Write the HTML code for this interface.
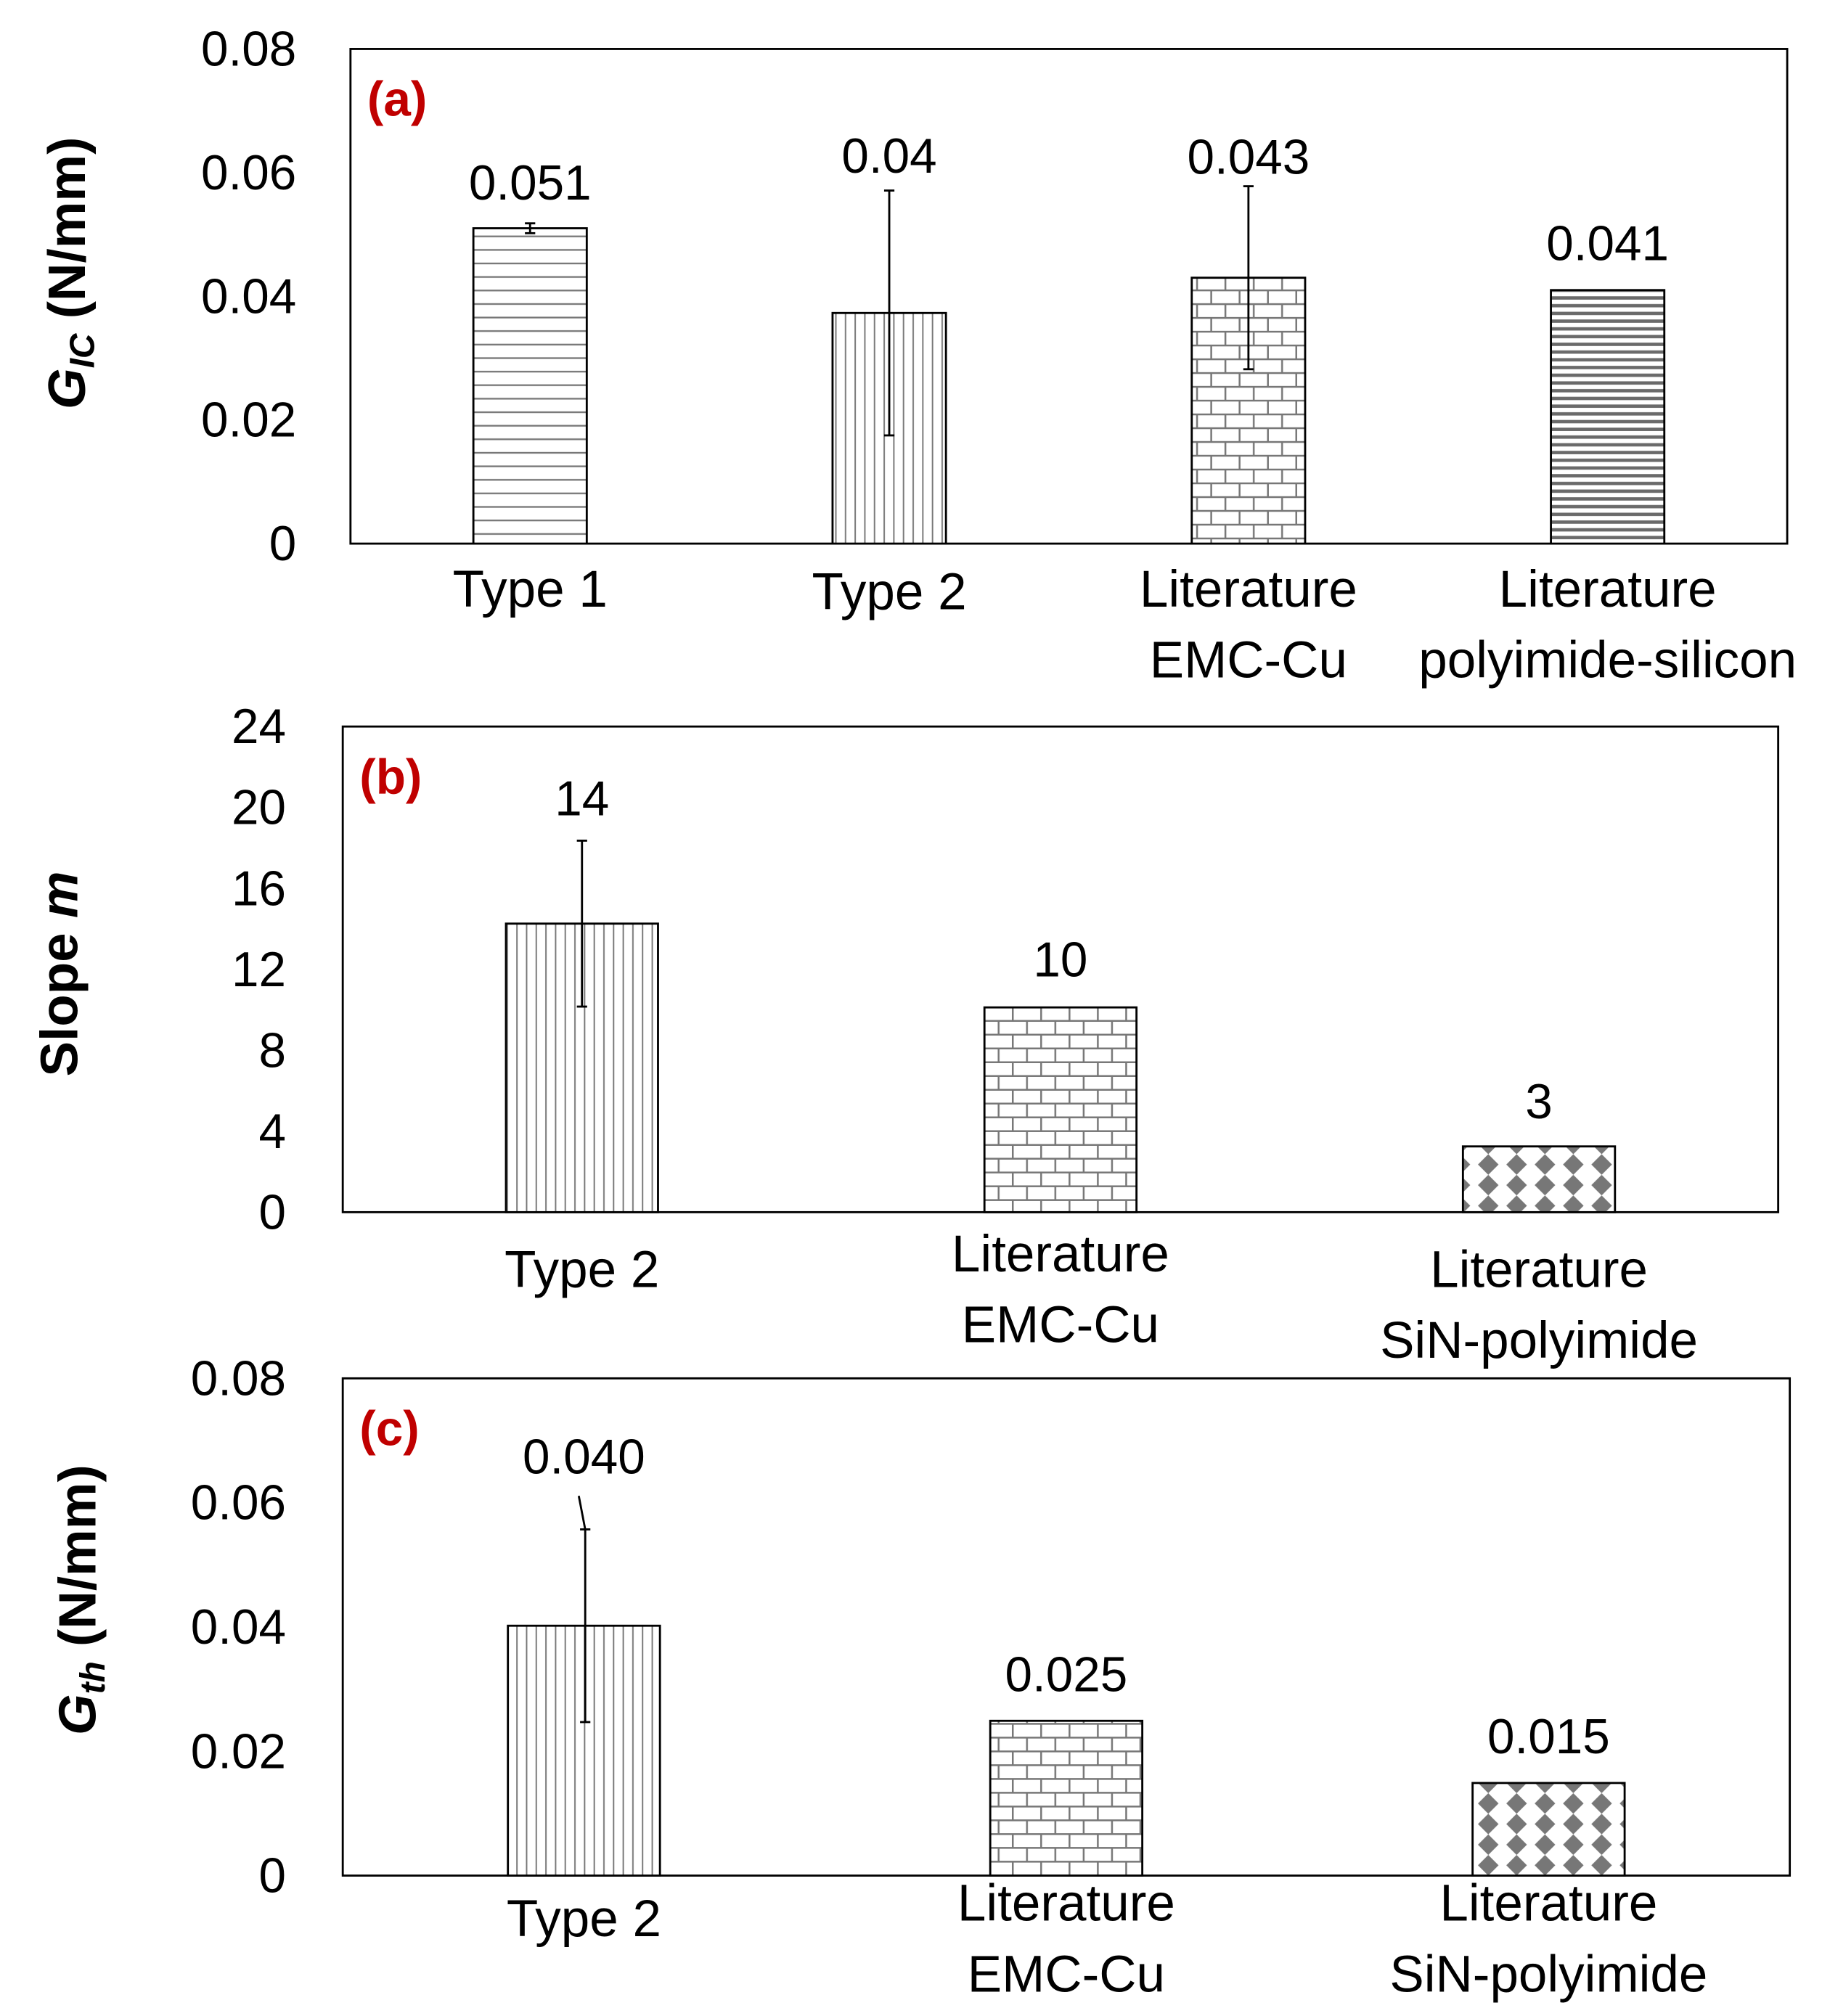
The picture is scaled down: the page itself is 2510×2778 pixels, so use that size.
<!DOCTYPE html>
<html><head><meta charset="utf-8"><style>
html,body{margin:0;padding:0;background:#fff;}
svg{display:block;}
text{font-family:"Liberation Sans",sans-serif;}
</style></head><body>
<svg id="fig" xmlns="http://www.w3.org/2000/svg" width="2510" height="2778" viewBox="0 0 1414 1565" preserveAspectRatio="none">
<defs>
<pattern id="pHoriz" patternUnits="userSpaceOnUse" width="10" height="10.5"><rect width="10" height="10.5" fill="#fff"/><line x1="0" y1="5" x2="10" y2="5" stroke="#777" stroke-width="1.3"/></pattern>
<pattern id="pVert" patternUnits="userSpaceOnUse" width="7.5" height="10"><rect width="7.5" height="10" fill="#fff"/><line x1="3.7" y1="0" x2="3.7" y2="10" stroke="#777" stroke-width="1.1"/></pattern>
<pattern id="pDense" patternUnits="userSpaceOnUse" width="10" height="6"><rect width="10" height="6" fill="#fff"/><rect x="0" y="2" width="10" height="2.6" fill="#6a6a6a"/></pattern>
<pattern id="pBrick" patternUnits="userSpaceOnUse" width="22" height="21.4"><rect width="22" height="21.4" fill="#fff"/><g stroke="#777" stroke-width="1.4"><line x1="0" y1="0.7" x2="22" y2="0.7"/><line x1="0" y1="11.4" x2="22" y2="11.4"/><line x1="5" y1="0" x2="5" y2="10.7"/><line x1="16" y1="10.7" x2="16" y2="21.4"/></g></pattern>
<pattern id="pDiamond" patternUnits="userSpaceOnUse" width="22" height="16" x="0" y="0"><rect width="22" height="16" fill="#fff"/><polygon points="11,0 19,8 11,16 3,8" fill="#777"/></pattern>
</defs>
<g id="root"></g>
</svg>
<script>
// ---------- Panel (a) data ----------
const catsA = [["Type 1"],["Type 2"],["Literature","EMC-Cu"],["Literature","polyimide-silicon"]];
const valsA = [0.051, 0.0373, 0.043, 0.041];
const errA = [0.0008, 0.0198, 0.0148, 0];
const labelsA = ["0.051","0.04","0.043","0.041"];
const ticksA = [0, 0.02, 0.04, 0.06, 0.08];
const tickLabelsA = ["0","0.02","0.04","0.06","0.08"];
// ---------- Panel (b) data ----------
const catsB = [["Type 2"],["Literature","EMC-Cu"],["Literature","SiN-polyimide"]];
const valsB = [14.26, 10.12, 3.25];
const errB = [4.1, 0, 0];
const labelsB = ["14","10","3"];
const ticksB = [0, 4, 8, 12, 16, 20, 24];
const tickLabelsB = ["0","4","8","12","16","20","24"];
// ---------- Panel (c) data ----------
const catsC = [["Type 2"],["Literature","EMC-Cu"],["Literature","SiN-polyimide"]];
const valsC = [0.0402, 0.0249, 0.0149];
const errC = [0.0155, 0, 0];
const labelsC = ["0.040","0.025","0.015"];
const ticksC = [0, 0.02, 0.04, 0.06, 0.08];
const tickLabelsC = ["0","0.02","0.04","0.06","0.08"];

const NS = "http://www.w3.org/2000/svg";
const root = document.getElementById('root');
function mk(tag, attrs, parent){
  const e = document.createElementNS(NS, tag);
  for (const k in attrs) e.setAttribute(k, attrs[k]);
  (parent||root).appendChild(e);
  return e;
}

function panel(cfg){
  const g = mk('g', {});
  
  
  const {x0,x1,y0,y1,max} = cfg;
  const yS = v => y1 - (v / max) * (y1 - y0);
  const bw = (x1 - x0) / cfg.cats.length;
  const xC = i => x0 + bw * (i + 0.5);
  const fr = mk('rect', {x:x0, y:y0, width:x1-x0, height:y1-y0, fill:'none', stroke:'#000', 'stroke-width':1.6}, g);
  
  
  cfg.ticks.forEach((t, i) => {
    const tx = mk('text', {x:cfg.tickX, y:yS(t)+13, 'text-anchor':'end', 'font-size':38, fill:'#000', 'textLength':0}, g);
    tx.removeAttribute('textLength');
    tx.textContent = cfg.tickLabels[i];
    
    
  });
  cfg.vals.forEach((v, i) => {
    const cx = xC(i), w = cfg.barW;
    const r = mk('rect', {x:cx-w/2, y:yS(v), width:w, height:y1-yS(v), fill:'url(#'+cfg.pats[i]+')', stroke:'#000', 'stroke-width':1.6}, g);
    
    
    if (cfg.errs[i] > 0) {
      const eg = mk('g', {stroke:'#000', 'stroke-width':1.6}, g);
      
      
      const ex = cx + (cfg.errOff ? cfg.errOff[i] : 0);
      const top = yS(v + cfg.errs[i]), bot = yS(v - cfg.errs[i]);
      mk('line', {x1:ex, y1:top, x2:ex, y2:bot}, eg);
      mk('line', {x1:ex-4, y1:top, x2:ex+4, y2:top}, eg);
      mk('line', {x1:ex-4, y1:bot, x2:ex+4, y2:bot}, eg);
      if (cfg.slant && cfg.slant[i]) mk('line', {x1:ex, y1:top, x2:ex-5, y2:top-26}, eg);
    }
    const lt = mk('text', {x:cx, y:cfg.labY[i], 'text-anchor':'middle', 'font-size':38, fill:'#000'}, g);
    lt.textContent = cfg.labels[i];
    
    
    cfg.cats[i].forEach((line, j) => {
      const ct = mk('text', {x:cx, y:cfg.catY[i] + j*55 + 13, 'text-anchor':'middle', 'font-size':40, fill:'#000'}, g);
      ct.textContent = line;
      
      
    });
  });
  const pl = mk('text', {x:x0+13, y:y0+52, 'font-size':38, 'font-weight':'bold', fill:'#c00000'}, g);
  pl.textContent = '(' + cfg.id + ')';
  
  
  const at = mk('text', {transform:'translate('+cfg.titleX+','+cfg.titleY+') rotate(-90)', 'text-anchor':'middle', 'font-size':41, 'font-weight':'bold', fill:'#000'}, g);
  
  
  cfg.title(at);
}
function tsp(parent, txt, attrs){ const t = mk('tspan', attrs||{}, parent); t.textContent = txt; return t; }

panel({id:'a', x0:272, x1:1387, y0:38, y1:422, max:0.08, ticks:ticksA, tickLabels:tickLabelsA, tickX:230,
  cats:catsA, vals:valsA, errs:errA, labels:labelsA, barW:88,
  pats:['pHoriz','pVert','pBrick','pDense'], labY:[155,134,135,202], catY:[458,460,458,458], titleX:66, titleY:212,
  title:at=>{ tsp(at,'G',{'font-style':'italic'}); tsp(at,'IC',{'font-style':'italic','font-size':27,dy:7}); tsp(at,' (N/mm)',{dy:-7}); }});
panel({id:'b', x0:266, x1:1380, y0:564, y1:941, max:24, ticks:ticksB, tickLabels:tickLabelsB, tickX:222,
  cats:catsB, vals:valsB, errs:errB, labels:labelsB, barW:118,
  pats:['pVert','pBrick','pDiamond'], labY:[633,758,868], catY:[986,974,986], titleX:60, titleY:756,
  title:at=>{ tsp(at,'Slope '); tsp(at,'m',{'font-style':'italic'}); }});
panel({id:'c', x0:266, x1:1389, y0:1070, y1:1456, max:0.08, ticks:ticksC, tickLabels:tickLabelsC, tickX:222,
  cats:catsC, vals:valsC, errs:errC, labels:labelsC, barW:118, errOff:[1,0,0], slant:[true,false,false],
  pats:['pVert','pBrick','pDiamond'], labY:[1144,1313,1361], catY:[1490,1478,1478], titleX:74, titleY:1242,
  title:at=>{ tsp(at,'G',{'font-style':'italic'}); tsp(at,'th',{'font-style':'italic','font-size':27,dy:7}); tsp(at,' (N/mm)',{dy:-7}); }});
</script>
</body></html>
